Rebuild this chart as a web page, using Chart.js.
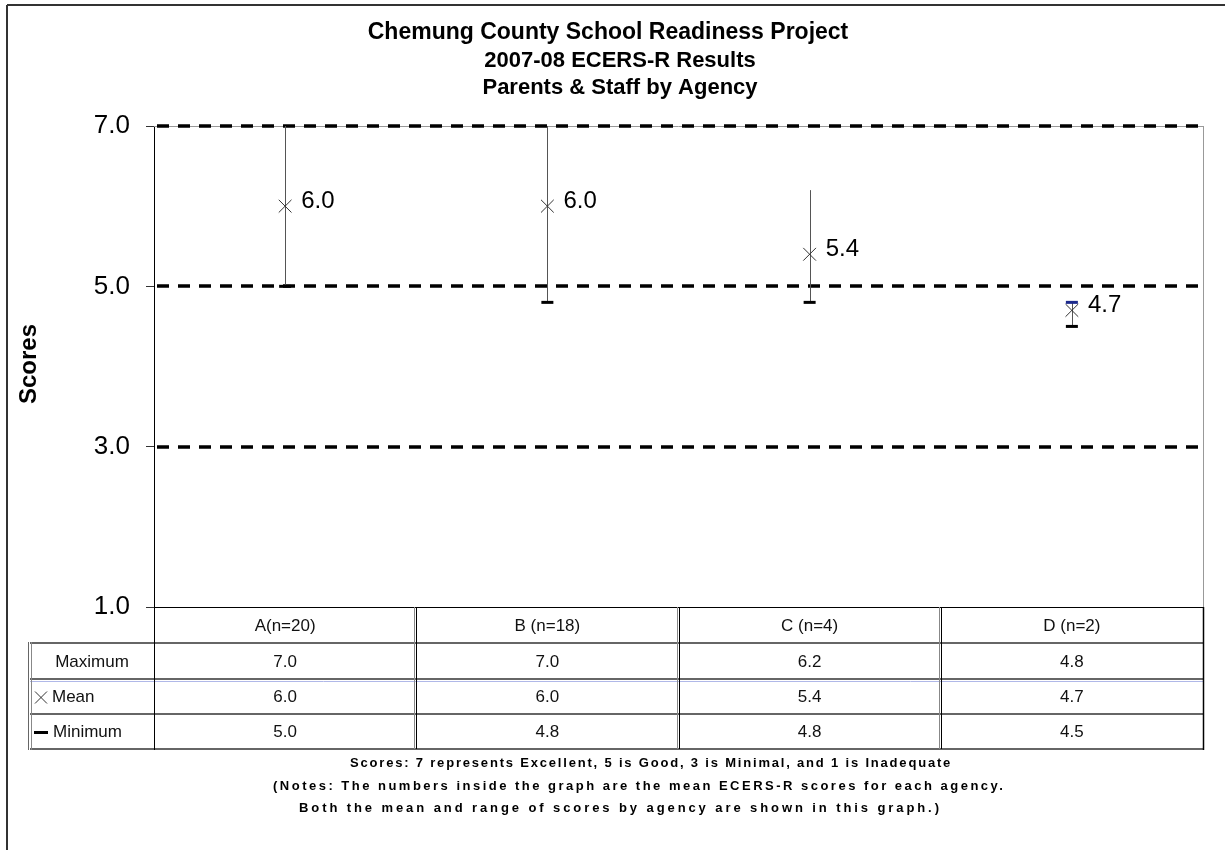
<!DOCTYPE html>
<html>
<head>
<meta charset="utf-8">
<script src="https://cdn.jsdelivr.net/npm/chart.js@4.4.1/dist/chart.umd.min.js"></script>
<style>
  html, body { margin: 0; padding: 0; background: #fff; }
  #wrap { width: 1225px; height: 850px; }
</style>
</head>
<body>
<div id="wrap"><canvas id="grafico" width="1225" height="850"></canvas></div>
<script>
// =========================
// DATA
// =========================
const agencies   = ["A(n=20)", "B (n=18)", "C (n=4)", "D (n=2)"];
const maxScores  = [7.0, 7.0, 6.2, 4.8];
const meanScores = [6.0, 6.0, 5.4, 4.7];
const minScores  = [5.0, 4.8, 4.8, 4.5];
const yTicks     = [1, 3, 5, 7];
const goodLines  = [3, 5, 7];   // dashed reference levels
const rowNames   = ["Maximum", "Mean", "Minimum"];

const titleLines = [
  "Chemung County School Readiness Project",
  "2007-08 ECERS-R Results",
  "Parents & Staff by Agency"
];
const noteLines = [
  "Scores: 7 represents Excellent, 5 is Good, 3 is Minimal, and 1 is Inadequate",
  "(Notes: The numbers inside the graph are the mean ECERS-R scores for each agency.",
  "Both the mean and range of scores by agency are shown in this graph.)"
];

const FONT = "'Liberation Sans', Arial, sans-serif";

// text squeezed/stretched to a given width via letterSpacing
function fitText(ctx, txt, x, y, width) {
  ctx.letterSpacing = "0px";
  const w = ctx.measureText(txt).width;
  const sp = (width - w) / Math.max(txt.length - 1, 1);
  ctx.letterSpacing = sp.toFixed(2) + "px";
  ctx.fillText(txt, x, y);
  ctx.letterSpacing = "0px";
}

function hline(ctx, x1, x2, y, color, w) {
  ctx.strokeStyle = color; ctx.lineWidth = w;
  ctx.beginPath(); ctx.moveTo(x1, y); ctx.lineTo(x2, y); ctx.stroke();
}
function vline(ctx, x, y1, y2, color, w) {
  ctx.strokeStyle = color; ctx.lineWidth = w;
  ctx.beginPath(); ctx.moveTo(x, y1); ctx.lineTo(x, y2); ctx.stroke();
}

// =========================
// PLUGIN: frame, grid, ranges, table, texts
// =========================
const extras = {
  id: "extras",
  beforeDraw(chart) {
    const ctx = chart.ctx;
    ctx.save();
    ctx.fillStyle = "#fff";
    ctx.fillRect(0, 0, chart.width, chart.height);
    hline(ctx, 7, 1225, 5, "#333", 2);
    vline(ctx, 7, 5, 850, "#333", 2);
    ctx.restore();
  },
  beforeDatasetsDraw(chart) {
    const ctx = chart.ctx;
    const a = chart.chartArea;
    const x = chart.scales.x, y = chart.scales.y;
    ctx.save();
    // plot border top/right
    hline(ctx, a.left, a.right, a.top + 0.5, "#999", 1);
    vline(ctx, a.right + 0.5, a.top, a.bottom, "#999", 1);
    // dashed levels
    ctx.setLineDash([12, 9]);
    goodLines.forEach(v => hline(ctx, a.left + 3, a.right - 3, Math.round(y.getPixelForValue(v)), "#000", 3.5));
    ctx.setLineDash([]);
    // range lines min -> max
    agencies.forEach((_, i) => {
      const px = Math.round(x.getPixelForValue(i)) + 0.5;
      vline(ctx, px, y.getPixelForValue(maxScores[i]), y.getPixelForValue(minScores[i]), "#555", 1);
    });
    ctx.restore();
  },
  afterDraw(chart) {
    const ctx = chart.ctx;
    const a = chart.chartArea;
    const x = chart.scales.x, y = chart.scales.y;
    ctx.save();

    // mean labels
    ctx.fillStyle = "#000";
    ctx.font = `24px ${FONT}`;
    ctx.textAlign = "left";
    ctx.textBaseline = "middle";
    meanScores.forEach((v, i) => {
      ctx.fillText(v.toFixed(1), x.getPixelForValue(i) + 16, y.getPixelForValue(v) - 5);
    });

    // ---- data table ----
    const rows = [a.bottom, 643, 679, 714, 749];
    const tLeft = 30;
    const colEdges = [a.left];
    for (let i = 0; i < agencies.length; i++) {
      colEdges.push(x.getPixelForValue(i) + (x.getPixelForValue(1) - x.getPixelForValue(0)) / 2);
    }
    // axis bottom
    hline(ctx, a.left, a.right + 1, a.bottom + 0.5, "#000", 1);
    // row lines
    for (let r = 1; r < rows.length; r++) {
      hline(ctx, tLeft, a.right + 1, rows[r], "#666", 2);
    }
    hline(ctx, tLeft, a.right + 1, rows[2] + 2.5, "#b0b8e8", 1);
    // left label column border (double)
    vline(ctx, tLeft - 1.5, rows[1] - 1, rows[4] + 1, "#666", 1);
    vline(ctx, tLeft + 1.5, rows[1] - 1, rows[4] + 1, "#888", 1);
    // axis continues through table
    vline(ctx, a.left + 0.5, a.bottom, rows[4] + 1, "#000", 1);
    // category separators (double)
    for (let c = 1; c < colEdges.length - 1; c++) {
      const cx = Math.round(colEdges[c]);
      vline(ctx, cx - 1.5, rows[0], rows[4], "#888", 1);
      vline(ctx, cx + 0.5, rows[0], rows[4], "#000", 1);
    }
    vline(ctx, a.right + 0.5, rows[0], rows[4] + 1, "#000", 1.5);

    ctx.fillStyle = "#111";
    ctx.font = `17px ${FONT}`;
    ctx.textAlign = "center";
    ctx.textBaseline = "middle";
    const mid = r => (rows[r] + rows[r + 1]) / 2 + 1;
    agencies.forEach((lab, i) => {
      const cx = x.getPixelForValue(i);
      ctx.fillText(lab, cx, mid(0));
      ctx.fillText(maxScores[i].toFixed(1), cx, mid(1));
      ctx.fillText(meanScores[i].toFixed(1), cx, mid(2));
      ctx.fillText(minScores[i].toFixed(1), cx, mid(3));
    });
    // row names
    ctx.fillText(rowNames[0], (tLeft + a.left) / 2, mid(1));
    ctx.textAlign = "left";
    ctx.fillText(rowNames[1], 52, mid(2));
    ctx.fillText(rowNames[2], 53, mid(3));
    // legend keys
    ctx.strokeStyle = "#333"; ctx.lineWidth = 1;
    const kx = 41, ky = mid(2);
    ctx.beginPath();
    ctx.moveTo(kx - 6, ky - 6); ctx.lineTo(kx + 6, ky + 6);
    ctx.moveTo(kx + 6, ky - 6); ctx.lineTo(kx - 6, ky + 6);
    ctx.stroke();
    hline(ctx, 34, 48, mid(3), "#000", 3);

    // ---- title ----
    ctx.fillStyle = "#000";
    ctx.textBaseline = "middle";
    ctx.textAlign = "center";
    ctx.font = `bold 23px ${FONT}`;
    ctx.fillText(titleLines[0], 608, 33);
    ctx.font = `bold 22px ${FONT}`;
    ctx.fillText(titleLines[1], 620, 60.5);
    ctx.fillText(titleLines[2], 620, 88);

    // ---- y title ----
    ctx.save();
    ctx.translate(29, 364);
    ctx.rotate(-Math.PI / 2);
    ctx.font = `bold 24px ${FONT}`;
    ctx.fillText("Scores", 0, 0);
    ctx.restore();

    // ---- notes ----
    ctx.font = `bold 13px ${FONT}`;
    ctx.textAlign = "left";
    const noteX = [350, 273, 299];
    const noteW = [600, 730, 640];
    const noteY = [763, 786, 808];
    noteLines.forEach((t, i) => fitText(ctx, t, noteX[i], noteY[i], noteW[i]));

    ctx.restore();
  }
};

// =========================
// CHART
// =========================
const chart = new Chart(document.getElementById("grafico"), {
  type: "line",
  data: {
    labels: agencies,
    datasets: [
      {
        label: "Mean",
        data: meanScores,
        showLine: false,
        pointStyle: "crossRot",
        pointRadius: 9,
        pointBorderWidth: 1,
        borderColor: "#333",
        backgroundColor: "#333"
      },
      {
        label: "Minimum",
        data: minScores,
        showLine: false,
        pointStyle: "line",
        pointRadius: 6,
        pointBorderWidth: 3,
        borderColor: "#000",
        backgroundColor: "#000"
      },
      {
        label: "Maximum",
        data: maxScores,
        showLine: false,
        pointStyle: "line",
        pointRadius: [0, 0, 0, 6],
        pointBorderWidth: 3,
        borderColor: "#1c2a8c",
        backgroundColor: "#1c2a8c"
      }
    ]
  },
  options: {
    responsive: false,
    animation: false,
    layout: { padding: { top: 126, bottom: 243, left: 0, right: 22 } },
    plugins: {
      legend: { display: false },
      tooltip: { enabled: false },
      title: { display: false }
    },
    scales: {
      x: { display: false, offset: true },
      y: {
        min: 1,
        max: 7,
        afterBuildTicks: s => { s.ticks = yTicks.map(v => ({ value: v })); },
        afterFit: s => { s.width = 154; },
        ticks: {
          padding: 16,
          color: "#000",
          font: { family: FONT, size: 26 },
          callback: v => Number(v).toFixed(1)
        },
        grid: { drawOnChartArea: false, drawTicks: true, tickLength: 8, color: "#333" },
        border: { display: true, color: "#000", width: 1 }
      }
    }
  },
  plugins: [extras]
});
</script>
</body>
</html>
